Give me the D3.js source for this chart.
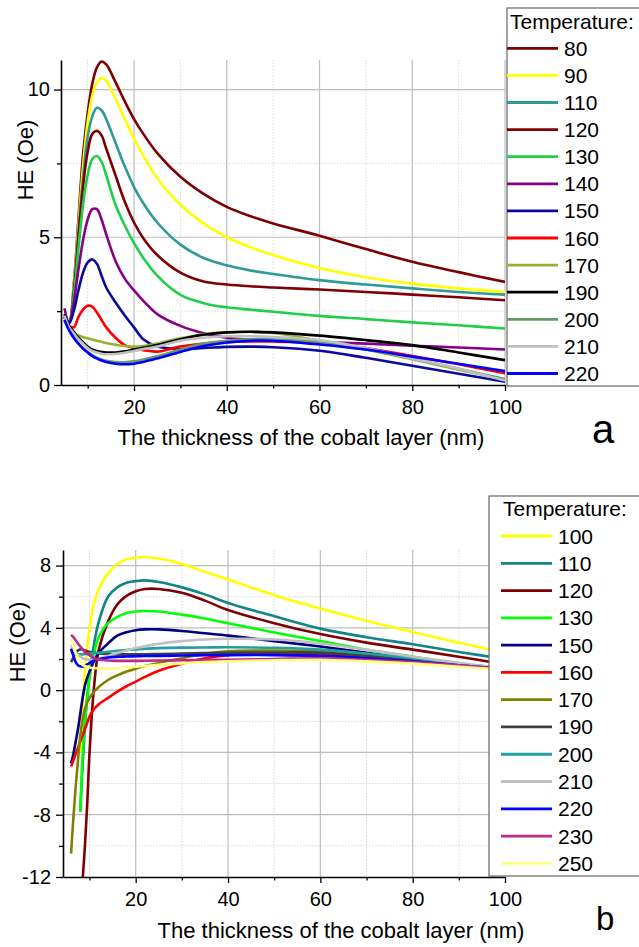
<!DOCTYPE html>
<html>
<head>
<meta charset="utf-8">
<title>HE vs cobalt thickness</title>
<style>
  body { margin: 0; background: #fff; }
  svg { display: block; font-family: Arial, "Liberation Sans", sans-serif; }
</style>
</head>
<body>
<svg id="chart" width="639" height="947"></svg>
<script src="https://d3js.org/d3.v7.min.js"></script>
<script>
// ---- panel a ----
const xsA = [5, 6, 7, 8, 9, 10, 11, 12, 13, 14, 16, 18, 20, 22, 25, 30, 35, 40, 45, 50, 60, 70, 80, 90, 100];
const tempsA = ["80", "90", "110", "120", "130", "140", "150", "160", "170", "190", "200", "210", "220"];
const colorsA = ["#7f0000", "#ffff00", "#2f9a9a", "#7f0000", "#1fcf4a", "#880088", "#0a0aa0",
                 "#ff0000", "#99b033", "#000000", "#669966", "#c0c0c0", "#0000ff"];
const a80  = [2.35, 2.15, 3.4, 5.6, 7.8, 9.2, 10.2, 10.75, 10.95, 10.85, 10.25, 9.6, 9.0, 8.5, 7.85, 7.05, 6.47, 6.03, 5.72, 5.47, 5.05, 4.6, 4.17, 3.82, 3.49];
const a90  = [2.3, 2.1, 3.3, 5.4, 7.4, 8.9, 9.8, 10.25, 10.4, 10.3, 9.7, 9.0, 8.35, 7.75, 7.0, 6.1, 5.47, 5.0, 4.67, 4.4, 3.96, 3.65, 3.43, 3.27, 3.15];
const a110 = [2.3, 2.1, 3.2, 5.2, 7.0, 8.4, 9.1, 9.38, 9.3, 9.0, 8.2, 7.4, 6.7, 6.15, 5.5, 4.75, 4.3, 4.05, 3.88, 3.76, 3.55, 3.4, 3.27, 3.15, 3.06];
const a120 = [2.3, 2.1, 3.1, 5.0, 6.7, 7.9, 8.5, 8.6, 8.45, 8.0, 7.1, 6.2, 5.5, 4.97, 4.4, 3.8, 3.5, 3.4, 3.34, 3.3, 3.23, 3.15, 3.06, 2.97, 2.87];
const a130 = [2.3, 2.1, 3.0, 4.6, 6.1, 7.1, 7.65, 7.75, 7.55, 7.1, 6.1, 5.4, 4.8, 4.3, 3.7, 3.05, 2.77, 2.63, 2.55, 2.48, 2.34, 2.23, 2.12, 2.02, 1.91];
const a140 = [2.6, 2.1, 2.8, 3.9, 4.9, 5.6, 5.95, 5.95, 5.6, 5.1, 4.2, 3.6, 3.2, 2.85, 2.4, 2.0, 1.75, 1.6, 1.53, 1.5, 1.45, 1.4, 1.33, 1.27, 1.2];
const a150 = [2.3, 2.1, 2.5, 3.2, 3.8, 4.15, 4.25, 4.1, 3.7, 3.3, 2.8, 2.35, 1.95, 1.55, 1.3, 1.22, 1.25, 1.29, 1.3, 1.28, 1.16, 0.92, 0.65, 0.38, 0.11];
const a160 = [2.2, 2.0, 1.95, 2.3, 2.55, 2.68, 2.65, 2.45, 2.2, 1.95, 1.6, 1.35, 1.25, 1.18, 1.13, 1.3, 1.4, 1.45, 1.47, 1.47, 1.42, 1.25, 0.98, 0.7, 0.4];
const a170 = [2.2, 1.9, 1.75, 1.68, 1.62, 1.58, 1.54, 1.5, 1.46, 1.42, 1.36, 1.32, 1.3, 1.32, 1.4, 1.58, 1.72, 1.78, 1.8, 1.76, 1.5, 1.2, 0.87, 0.52, 0.17];
const a190 = [2.4, 2.0, 1.8, 1.6, 1.45, 1.3, 1.2, 1.15, 1.12, 1.1, 1.1, 1.14, 1.2, 1.26, 1.35, 1.55, 1.7, 1.78, 1.8, 1.78, 1.67, 1.52, 1.35, 1.1, 0.84];
const a200 = [2.3, 1.9, 1.6, 1.4, 1.25, 1.12, 1.0, 0.92, 0.86, 0.82, 0.78, 0.77, 0.8, 0.86, 0.97, 1.2, 1.4, 1.5, 1.55, 1.55, 1.45, 1.2, 0.9, 0.55, 0.2];
const a210 = [2.35, 1.95, 1.75, 1.55, 1.4, 1.25, 1.15, 1.1, 1.06, 1.04, 1.05, 1.09, 1.15, 1.22, 1.3, 1.5, 1.6, 1.65, 1.65, 1.62, 1.52, 1.25, 0.9, 0.55, 0.15];
const a220 = [2.2, 1.85, 1.6, 1.4, 1.23, 1.1, 0.98, 0.9, 0.83, 0.78, 0.72, 0.7, 0.72, 0.78, 0.9, 1.12, 1.32, 1.44, 1.5, 1.5, 1.37, 1.2, 0.96, 0.72, 0.47];

// ---- panel b ----
const xsB = [6, 6.5, 7, 7.5, 8, 8.5, 9, 9.5, 10, 11, 12, 14, 16, 18, 20, 22, 25, 30, 35, 40, 50, 60, 70, 80, 90, 100];
const tempsB = ["100", "110", "120", "130", "150", "160", "170", "190", "200", "210", "220", "230", "250"];
const colorsB = ["#ffff00", "#138585", "#7f0000", "#00ff00", "#000080", "#ff0000", "#808000",
                 "#404040", "#20a0a0", "#c0c0c0", "#0000ff", "#c0288a", "#ffff80"];
const b100 = [null, null, null, null, -4, -1.2, 1.2, 2.8, 4.0, 5.6, 6.5, 7.5, 8.1, 8.4, 8.5, 8.55, 8.45, 8.1, 7.6, 7.1, 6.1, 5.24, 4.45, 3.74, 3.05, 2.4];
const b110 = [null, null, null, null, -7.8, -4.8, -2.3, -0.4, 1.0, 3.0, 4.4, 6.0, 6.6, 6.9, 7.0, 7.05, 6.95, 6.6, 6.15, 5.6, 4.75, 3.95, 3.4, 2.95, 2.45, 2.0];
const b120 = [null, null, null, null, null, -12.2, -10, -7.3, -4, 0.3, 2.6, 4.4, 5.5, 6.05, 6.35, 6.5, 6.5, 6.25, 5.75, 5.15, 4.3, 3.6, 3.05, 2.6, 2.15, 1.65];
const b130 = [null, null, null, null, -7.8, -4.2, -2.0, -0.5, 0.8, 2.4, 3.4, 4.3, 4.7, 4.95, 5.05, 5.08, 5.05, 4.85, 4.6, 4.3, 3.7, 3.15, 2.6, 2.15, 1.7, 1.25];
const b150 = [-4.7, -4.1, -3.3, -2.5, -1.5, -0.5, 0.3, 0.8, 1.2, 1.9, 2.4, 3.0, 3.5, 3.72, 3.85, 3.9, 3.9, 3.8, 3.65, 3.5, 3.15, 2.8, 2.4, 2.0, 1.65, 1.3];
const b160 = [-4.9, -4.5, -4.1, -3.7, -3.3, -2.9, -2.5, -2.1, -1.7, -1.2, -0.9, -0.5, -0.1, 0.25, 0.55, 0.85, 1.25, 1.7, 2.05, 2.25, 2.35, 2.3, 2.1, 1.85, 1.6, 1.35];
const b170 = [-10.5, -8.2, -6.2, -4.5, -2.9, -1.9, -1.2, -0.8, -0.5, -0.1, 0.2, 0.65, 0.95, 1.2, 1.38, 1.55, 1.75, 2.05, 2.35, 2.5, 2.55, 2.5, 2.25, 1.95, 1.65, 1.35];
const b190 = [1.8, 2.1, 2.4, 2.55, 2.62, 2.6, 2.55, 2.5, 2.45, 2.4, 2.35, 2.32, 2.3, 2.3, 2.3, 2.3, 2.32, 2.35, 2.38, 2.4, 2.42, 2.4, 2.2, 1.95, 1.65, 1.4];
const b200 = [2.5, 2.4, 2.32, 2.3, 2.3, 2.3, 2.32, 2.33, 2.35, 2.38, 2.4, 2.47, 2.53, 2.58, 2.62, 2.66, 2.7, 2.73, 2.74, 2.75, 2.72, 2.6, 2.35, 2.05, 1.7, 1.4];
const b210 = [2.9, 2.6, 2.4, 2.25, 2.15, 2.05, 2.0, 1.97, 1.95, 1.97, 2.0, 2.2, 2.38, 2.55, 2.7, 2.82, 2.98, 3.15, 3.25, 3.3, 3.25, 3.0, 2.6, 2.15, 1.75, 1.4];
const b220 = [2.67, 2.2, 1.8, 1.6, 1.53, 1.52, 1.55, 1.65, 1.75, 1.9, 2.0, 2.1, 2.14, 2.16, 2.18, 2.19, 2.2, 2.22, 2.24, 2.25, 2.25, 2.2, 2.05, 1.85, 1.6, 1.35];
const b230 = [3.55, 3.4, 3.2, 3.0, 2.8, 2.62, 2.45, 2.33, 2.25, 2.05, 1.97, 1.9, 1.88, 1.88, 1.88, 1.89, 1.9, 1.92, 1.94, 1.95, 2.0, 2.05, 1.95, 1.8, 1.6, 1.35];
const b250 = [3.3, 2.8, 2.4, 2.05, 1.8, 1.62, 1.55, 1.5, 1.45, 1.42, 1.4, 1.38, 1.4, 1.45, 1.5, 1.55, 1.62, 1.72, 1.8, 1.85, 1.92, 1.95, 1.85, 1.7, 1.5, 1.3];

const xMajor = [20, 40, 60, 80, 100];
const xMinor = [10, 30, 50, 70, 90];

const svg = d3.select("#chart");

function drawPanel(p) {
    const x = d3.scaleLinear().domain([4.25, 100]).range([p.left, p.right]);
    const y = d3.scaleLinear().domain(p.yDomain).range([p.bottom, p.top]);
    const g = svg.append("g");

    // grid: minor dotted, then major solid
    g.append("g").selectAll("line").data(xMinor).join("line")
        .attr("x1", d => x(d)).attr("x2", d => x(d)).attr("y1", p.top).attr("y2", p.bottom)
        .attr("stroke", "#d8d8d8").attr("stroke-dasharray", "1.5,1.5");
    g.append("g").selectAll("line").data(p.yMinor).join("line")
        .attr("x1", p.left).attr("x2", p.right).attr("y1", d => y(d)).attr("y2", d => y(d))
        .attr("stroke", "#d8d8d8").attr("stroke-dasharray", "1.5,1.5");
    g.append("g").selectAll("line").data(xMajor).join("line")
        .attr("x1", d => x(d)).attr("x2", d => x(d)).attr("y1", p.top).attr("y2", p.bottom)
        .attr("stroke", "#bdbdbd").attr("stroke-width", 1.2);
    g.append("g").selectAll("line").data(p.yGrid).join("line")
        .attr("x1", p.left).attr("x2", p.right).attr("y1", d => y(d)).attr("y2", d => y(d))
        .attr("stroke", "#bdbdbd").attr("stroke-width", 1.2);

    // curves
    svg.append("clipPath").attr("id", "clip-" + p.id).append("rect")
        .attr("x", p.left).attr("y", p.top)
        .attr("width", p.right - p.left).attr("height", p.bottom - p.top);
    const line = d3.line()
        .defined(d => d[1] != null)
        .x(d => x(d[0])).y(d => y(d[1]))
        .curve(d3.curveCatmullRom.alpha(0.5));
    g.append("g").attr("clip-path", `url(#clip-${p.id})`)
        .selectAll("path").data(p.series).join("path")
        .attr("d", s => line(p.xs.map((v, i) => [v, s.values[i]])))
        .attr("fill", "none")
        .attr("stroke", s => s.color)
        .attr("stroke-width", 2.6)
        .attr("stroke-linejoin", "round");

    // axes
    g.append("g").attr("transform", `translate(0,${p.bottom})`)
        .call(d3.axisBottom(x).tickValues(xMajor).tickSize(6).tickSizeOuter(0).tickPadding(9)
            .tickFormat(d => String(d)));
    g.append("g").attr("transform", `translate(0,${p.bottom})`)
        .call(d3.axisBottom(x).tickValues(xMinor).tickSize(3.5).tickFormat(""))
        .call(a => a.select(".domain").remove());
    g.append("g").attr("transform", `translate(${p.left},0)`)
        .call(d3.axisLeft(y).tickValues(p.yTicks).tickSize(7).tickSizeOuter(0).tickPadding(p.yPad)
            .tickFormat(d => String(d)));
    g.append("g").attr("transform", `translate(${p.left},0)`)
        .call(d3.axisLeft(y).tickValues(p.yMinor).tickSize(4).tickFormat(""))
        .call(a => a.select(".domain").remove());
    g.selectAll(".domain").attr("stroke", "#000").attr("stroke-width", 1.6);
    g.selectAll(".tick line").attr("stroke", "#000").attr("stroke-width", 1.3);
    g.selectAll(".tick text").attr("font-size", 20).attr("fill", "#000")
        .attr("font-family", "Arial, 'Liberation Sans', sans-serif");

    // titles
    g.append("text").attr("x", p.xTitleX).attr("y", p.xTitleY)
        .attr("text-anchor", "middle").attr("font-size", 22)
        .text("The thickness of the cobalt layer (nm)");
    g.append("text").attr("transform", `translate(${p.yTitleX},${p.yTitleY}) rotate(-90)`)
        .attr("text-anchor", "middle").attr("font-size", 22)
        .text("HE (Oe)");

    // legend
    const lg = g.append("g");
    lg.append("rect").attr("x", p.legX).attr("y", p.legY)
        .attr("width", 170).attr("height", p.legH)
        .attr("fill", "#fff").attr("stroke", "#666").attr("stroke-width", 1.2);
    lg.append("text").attr("x", p.legTitleX).attr("y", p.legTitleY)
        .attr("font-size", 21).text("Temperature:");
    const rows = lg.selectAll("g.row").data(p.series).join("g")
        .attr("class", "row")
        .attr("transform", (d, i) => `translate(0,${p.legRow0 + i * p.legStep})`);
    rows.append("line").attr("x1", p.legLineX).attr("x2", p.legLineX + 51)
        .attr("stroke", d => d.color).attr("stroke-width", 2.8);
    rows.append("text").attr("x", p.legLineX + 57).attr("y", 7.5)
        .attr("font-size", 21).text(d => d.name);

    g.append("text").attr("x", p.tagX).attr("y", p.tagY)
        .attr("font-size", p.tagSize).text(p.tag);
}

const valsA = [a80, a90, a110, a120, a130, a140, a150, a160, a170, a190, a200, a210, a220];
const valsB = [b100, b110, b120, b130, b150, b160, b170, b190, b200, b210, b220, b230, b250];

drawPanel({
    id: "a", xs: xsA,
    series: tempsA.map((t, i) => ({ name: t, color: colorsA[i], values: valsA[i] })),
    left: 61, right: 505, top: 60, bottom: 385,
    yDomain: [0, 11], yTicks: [0, 5, 10], yGrid: [5, 10], yMinor: [2.5, 7.5], yPad: 4,
    xTitleX: 301, xTitleY: 445, yTitleX: 33, yTitleY: 160,
    legX: 507, legY: 8, legH: 378, legTitleX: 510, legTitleY: 29,
    legRow0: 48.3, legStep: 27.1, legLineX: 507,
    tag: "a", tagX: 592, tagY: 443, tagSize: 40
});

drawPanel({
    id: "b", xs: xsB,
    series: tempsB.map((t, i) => ({ name: t, color: colorsB[i], values: valsB[i] })),
    left: 63, right: 505, top: 550, bottom: 877,
    yDomain: [-12, 9], yTicks: [-12, -8, -4, 0, 4, 8], yGrid: [-8, -4, 0, 4, 8], yMinor: [-10, -6, -2, 2, 6], yPad: 5,
    xTitleX: 341, xTitleY: 938, yTitleX: 25, yTitleY: 642,
    legX: 489, legY: 496, legH: 380, legTitleX: 503, legTitleY: 516,
    legRow0: 536, legStep: 27.28, legLineX: 501,
    tag: "b", tagX: 596, tagY: 930, tagSize: 33
});
</script>
</body>
</html>
